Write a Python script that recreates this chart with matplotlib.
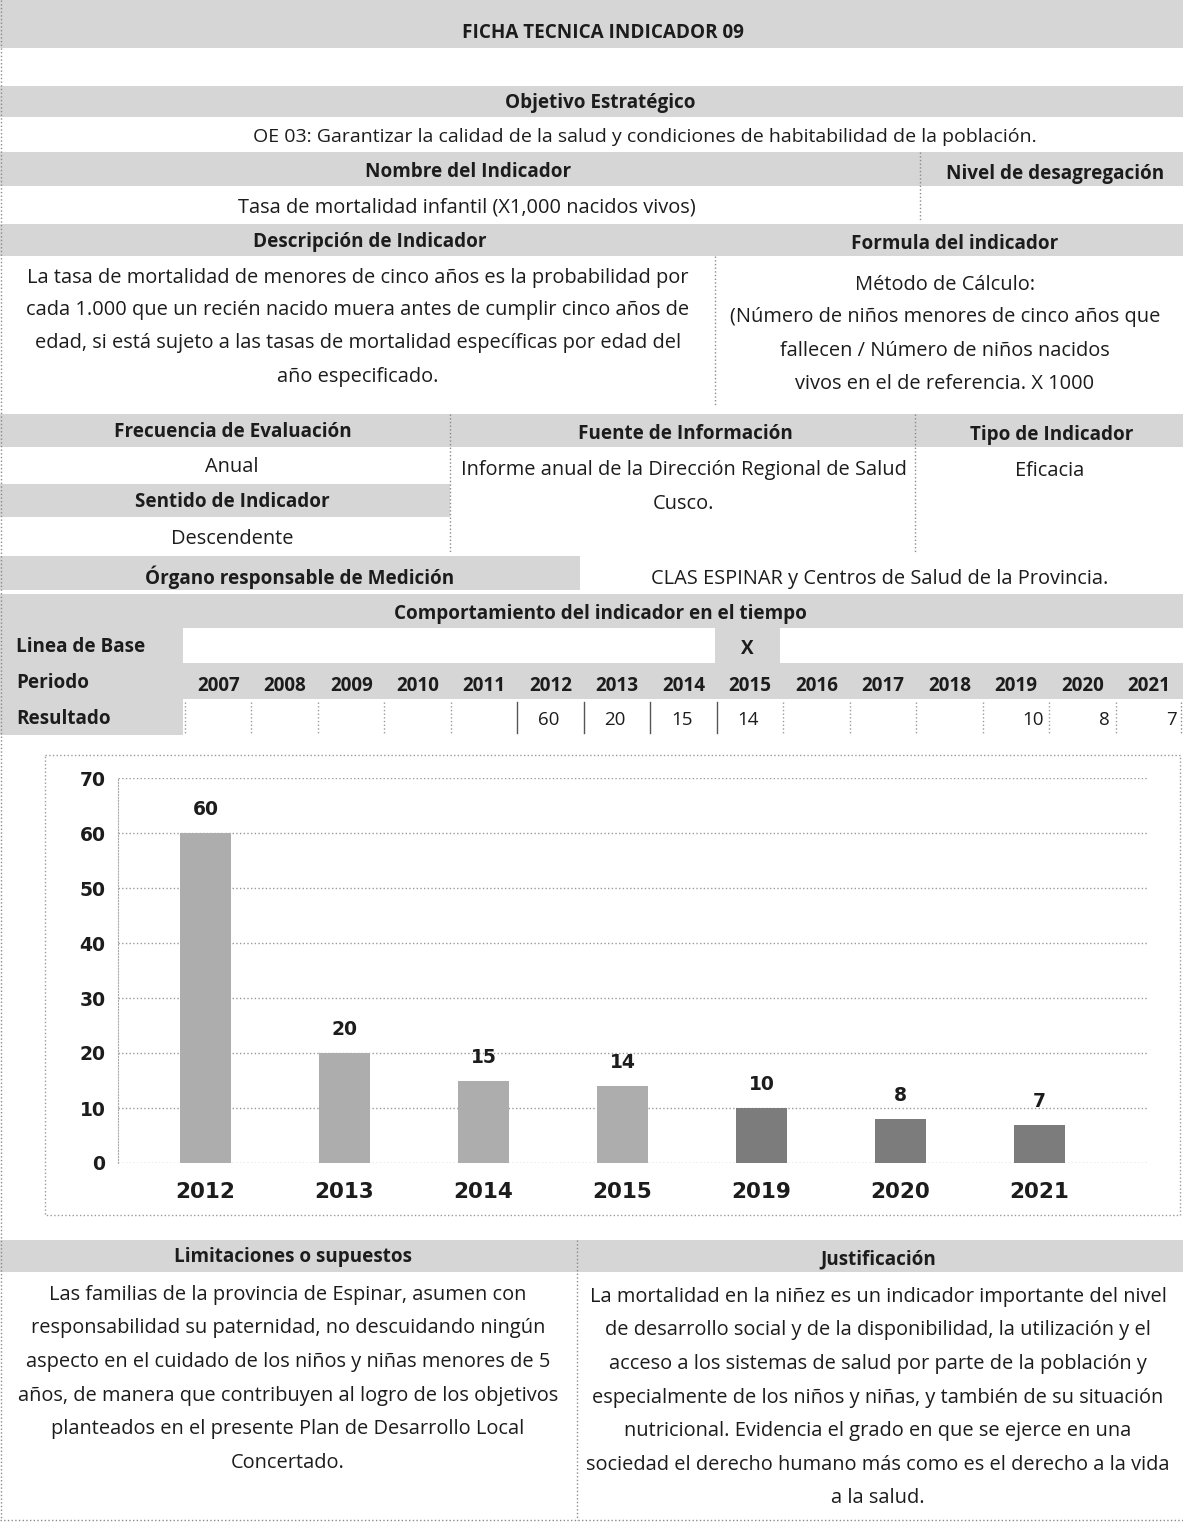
import matplotlib
matplotlib.use("Agg")
import matplotlib.pyplot as plt
from matplotlib.patches import Rectangle

# ---------------- data ----------------
title = "FICHA TECNICA INDICADOR 09"
periods = [2007, 2008, 2009, 2010, 2011, 2012, 2013, 2014, 2015, 2016, 2017, 2018, 2019, 2020, 2021]
result_years = [2012, 2013, 2014, 2015, 2019, 2020, 2021]
result_values = [60, 20, 15, 14, 10, 8, 7]
chart_labels = [str(y) for y in result_years]
chart_values = result_values
ytick_values = [0, 10, 20, 30, 40, 50, 60, 70]

desc_lines = [
    "La tasa de mortalidad de menores de cinco años es la probabilidad por",
    "cada 1.000 que un recién nacido muera antes de cumplir cinco años de",
    "edad, si está sujeto a las tasas de mortalidad específicas por edad del",
    "año especificado.",
]
formula_lines = [
    "Método de Cálculo:",
    "(Número de niños menores de cinco años que",
    "fallecen / Número de niños nacidos",
    "vivos en el de referencia. X 1000",
]
limit_lines = [
    "Las familias de la provincia de Espinar, asumen con",
    "responsabilidad su paternidad, no descuidando ningún",
    "aspecto en el cuidado de los niños y niñas menores de 5",
    "años, de manera que contribuyen al logro de los objetivos",
    "planteados en el presente Plan de Desarrollo Local",
    "Concertado.",
]
just_lines = [
    "La mortalidad en la niñez es un indicador importante del nivel",
    "de desarrollo social y de la disponibilidad, la utilización y el",
    "acceso a los sistemas de salud por parte de la población y",
    "especialmente de los niños y niñas, y también de su situación",
    "nutricional. Evidencia el grado en que se ejerce en una",
    "sociedad el derecho humano más como es el derecho a la vida",
    "a la salud.",
]

# ---------------- figure ----------------
W, H = 1183, 1527
fig = plt.figure(figsize=(W / 100, H / 100), dpi=100)
bg = fig.add_axes([0, 0, 1, 1])
bg.set_xlim(0, W)
bg.set_ylim(H, 0)
bg.axis("off")

GRAY = "#d6d6d6"
TXT = "#1c1c1c"
FONT = ["Open Sans", "DejaVu Sans"]
BODY = 14.4
HEAD = 13.6
DY = 2


def band(x0, x1, y0, y1, color=GRAY):
    bg.add_patch(Rectangle((x0, y0), x1 - x0, y1 - y0, facecolor=color, edgecolor="none", zorder=0))


def vline(x, y0, y1, ls=":", c="#8a8a8a", lw=1.0):
    bg.plot([x, x], [y0, y1], ls=ls, color=c, lw=lw, zorder=2)


def hline(y, x0, x1, ls=":", c="#8a8a8a", lw=1.0):
    bg.plot([x0, x1], [y, y], ls=ls, color=c, lw=lw, zorder=2)


def txt(x, y, s, bold=False, size=BODY, ha="center"):
    bg.text(x, y + DY, s, ha=ha, va="center", fontsize=size, color=TXT,
            fontweight="bold" if bold else "normal", family=FONT, zorder=3)


# title
band(0, W, 0, 48)
txt(603, 31, title, bold=True, size=HEAD)
# objetivo
band(0, W, 86, 117)
txt(600, 101, "Objetivo Estratégico", bold=True, size=HEAD)
txt(645, 135, "OE 03: Garantizar la calidad de la salud y condiciones de habitabilidad de la población.", size=14)
# nombre
band(0, W, 152, 186)
txt(468, 170, "Nombre del Indicador", bold=True, size=HEAD)
txt(1055, 172, "Nivel de desagregación", bold=True, size=HEAD)
vline(920, 152, 222)
txt(467, 206, "Tasa de mortalidad infantil (X1,000 nacidos vivos)", size=BODY)
# descripcion
band(0, W, 224, 256)
txt(370, 240, "Descripción de Indicador", bold=True, size=HEAD)
txt(955, 242, "Formula del indicador", bold=True, size=HEAD)
vline(715, 256, 405)
for y, s in zip([276, 308, 341, 375], desc_lines):
    txt(358, y, s)
for y, s in zip([283, 315, 349, 382], formula_lines):
    txt(945, y, s)
# frecuencia
band(0, W, 414, 447)
txt(233, 430, "Frecuencia de Evaluación", bold=True, size=HEAD)
txt(685, 432, "Fuente de Información", bold=True, size=HEAD)
txt(1052, 433, "Tipo de Indicador", bold=True, size=HEAD)
vline(450, 414, 552)
vline(915, 414, 552)
txt(232, 465, "Anual")
txt(684, 468, "Informe anual de la Dirección Regional de Salud")
txt(684, 502, "Cusco.")
txt(1050, 469, "Eficacia")
band(0, 450, 484, 517)
txt(232, 500, "Sentido de Indicador", bold=True, size=HEAD)
txt(232, 537, "Descendente")
# organo
band(0, 580, 556, 590)
txt(300, 575, "Órgano responsable de Medición", bold=True, size=HEAD)
txt(880, 577, "CLAS ESPINAR y Centros de Salud de la Provincia.")
# comportamiento
band(0, W, 594, 628)
txt(600, 612, "Comportamiento del indicador en el tiempo", bold=True, size=HEAD)
# linea de base row
band(0, 183, 628, 663)
band(715, 780, 628, 663)
txt(16, 645, "Linea de Base", bold=True, size=HEAD, ha="left")
txt(747, 647, "X", bold=True, size=HEAD)
# periodo row
band(0, W, 663, 699)
txt(16, 681, "Periodo", bold=True, size=HEAD, ha="left")
x0c = 185
cw = 66.5
for i, yr in enumerate(periods):
    txt(x0c + cw * (i + 0.5), 684, str(yr), bold=True, size=HEAD)
# resultado row
band(0, 183, 699, 735)
txt(16, 717, "Resultado", bold=True, size=HEAD, ha="left")
for i, yr in enumerate(periods):
    xl = x0c + cw * i
    solid = 2012 <= yr <= 2015
    vline(xl, 702, 733, ls="-" if solid else ":", c="#555" if solid else "#999")
    if yr in result_years:
        v = result_values[result_years.index(yr)]
        if solid:
            txt(xl + cw / 2 - 2, 718, str(v), size=13.5, ha="center")
        else:
            txt(xl + cw - 6, 718, str(v), size=13.5, ha="right")
vline(W - 2, 702, 733)

# chart border
bg.add_patch(Rectangle((45, 755), 1135, 460, facecolor="none", edgecolor="#9a9a9a",
                       ls=":", lw=1.0, zorder=2))

# limitaciones
band(0, W, 1240, 1272)
vline(577, 1240, 1520)
txt(293, 1255, "Limitaciones o supuestos", bold=True, size=HEAD)
txt(878, 1257, "Justificación", bold=True, size=HEAD)
for i, s in enumerate(limit_lines):
    txt(288, 1293 + i * 33.5, s)
for i, s in enumerate(just_lines):
    txt(878, 1295 + i * 33.5, s)
hline(1520, 0, W)
vline(1, 0, 1520)

# ---------------- bar chart ----------------
ax_left, ax_right = 118, 1148
ax_top, ax_bot = 778, 1163
ax = fig.add_axes([ax_left / W, 1 - ax_bot / H, (ax_right - ax_left) / W, (ax_bot - ax_top) / H])
ax.set_facecolor("none")
xs = list(range(len(chart_labels)))
colors = ["#adadad"] * 4 + ["#7c7c7c"] * 3
ax.bar(xs, chart_values, width=0.37, color=colors, zorder=2)
for x, v in zip(xs, chart_values):
    ax.text(x, v + 2.5, str(v), ha="center", va="bottom", fontsize=13.5,
            fontweight="bold", color=TXT, family="DejaVu Sans")
ax.set_xlim(-0.63, 6.78)
ax.set_ylim(0, 70)
ax.set_yticks(ytick_values)
ax.set_yticklabels([str(v) for v in ytick_values], fontsize=13.5, fontweight="bold",
                   color=TXT, family="DejaVu Sans")
ax.set_xticks(xs)
ax.set_xticklabels(chart_labels, fontsize=15.5, fontweight="bold", color=TXT, family="DejaVu Sans")
ax.tick_params(axis="both", length=0)
ax.tick_params(axis="y", pad=9)
ax.tick_params(axis="x", pad=14)
ax.grid(axis="y", ls=":", color="#9a9a9a", lw=1.0, zorder=0)
for sp in ["top", "right", "bottom"]:
    ax.spines[sp].set_visible(False)
ax.spines["left"].set_linestyle(":")
ax.spines["left"].set_color("#aaaaaa")

fig.savefig("out.png", dpi=100)
